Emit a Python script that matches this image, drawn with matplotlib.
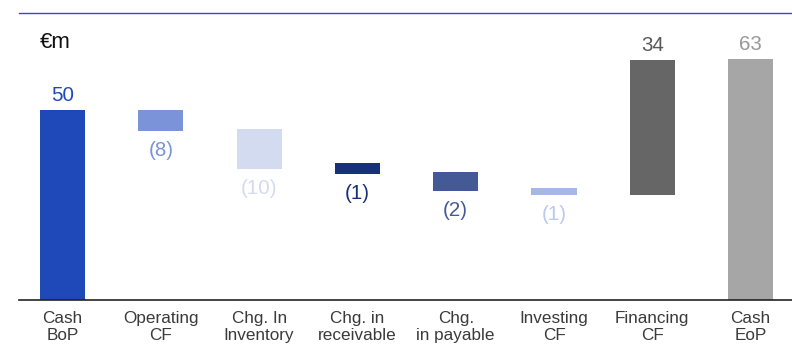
import matplotlib.pyplot as plt

plt.rcParams['font.family'] = ['Liberation Sans', 'DejaVu Sans']

# Wasserfall: Kategorien, Balken (unten/oben) und Beschriftungen
categories = ['Cash\nBoP', 'Operating\nCF', 'Chg. In\nInventory', 'Chg. in\nreceivable',
              'Chg.\nin payable', 'Investing\nCF', 'Financing\nCF', 'Cash\nEoP']
bar_bottom = [0, 44.5, 34.5, 33.2, 28.7, 27.6, 27.6, 0]
bar_top = [50, 50, 45.0, 36.1, 33.7, 29.5, 63.2, 63.4]
value_labels = ['50', '(8)', '(10)', '(1)', '(2)', '(1)', '34', '63']
label_above = [True, False, False, False, False, False, True, True]

colors = ['#1f48b9', '#7b93d8', '#d3dbf1', '#17307b', '#435a96', '#a6b6e6', '#666666', '#a6a6a6']
text_colors = ['#1f48b9', '#7b93d8', '#d3dbf1', '#17307b', '#435a96', '#bcc8ee', '#595959', '#999999']

fig = plt.figure(figsize=(7.92, 3.44), dpi=100)
ax = fig.add_axes([19 / 792, 44 / 344, 1 - 19 / 792, 287 / 344])

x = list(range(len(categories)))
heights = [t - b for b, t in zip(bar_bottom, bar_top)]
ax.bar(x, heights, bottom=bar_bottom, width=0.458, color=colors)

for i in x:
    if label_above[i]:
        ax.annotate(value_labels[i], (i, bar_top[i]), xytext=(0, 9), textcoords='offset pixels',
                    ha='center', va='baseline', fontsize=14.8, color=text_colors[i])
    else:
        ax.annotate(value_labels[i], (i, bar_bottom[i]), xytext=(0, -25), textcoords='offset pixels',
                    ha='center', va='baseline', fontsize=14.8, color=text_colors[i])

ax.set_xlim(-0.4425, 7.421)
ax.set_ylim(0, 75.5)
ax.set_xticks(x)
ax.set_xticklabels(categories, fontsize=12.3, color='#3a3a3a', linespacing=1.12)
ax.tick_params(axis='x', length=0, pad=8)
ax.set_yticks([])

for s in ['left', 'right']:
    ax.spines[s].set_visible(False)
ax.spines['top'].set_color('#2c50c4')
ax.spines['top'].set_linewidth(1.0)
ax.spines['bottom'].set_color('#222222')
ax.spines['bottom'].set_linewidth(1.2)

fig.text(40 / 792, 1 - 48 / 344, '€m', fontsize=16, color='#111111', va='baseline', ha='left')

fig.savefig('out.png', dpi=100)
